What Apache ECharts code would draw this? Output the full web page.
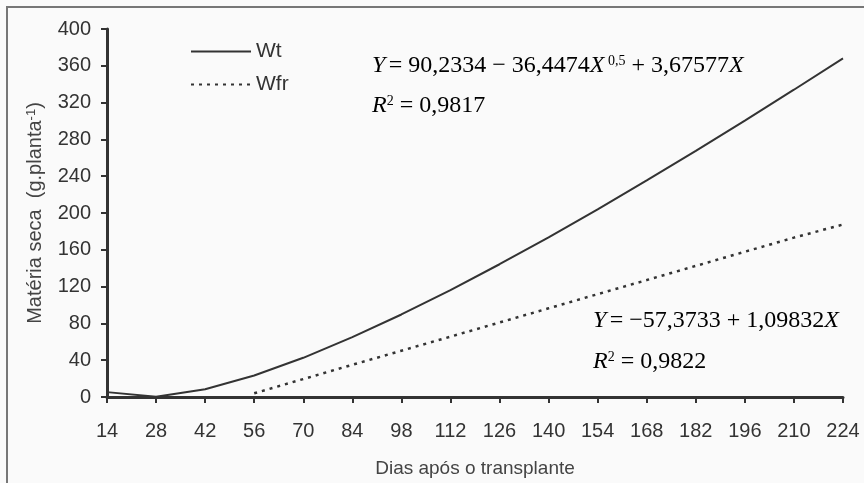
<!DOCTYPE html>
<html>
<head>
<meta charset="utf-8">
<script src="https://cdn.jsdelivr.net/npm/echarts@6/dist/echarts.min.js"></script>
<style>
  html, body { margin: 0; padding: 0; background: #fafafa; }
  #chart { width: 864px; height: 483px; }
</style>
</head>
<body>
<div id="chart"></div>
<script>
// dias após o transplante
const days = [14, 28, 42, 56, 70, 84, 98, 112, 126, 140, 154, 168, 182, 196, 210, 224];
// matéria seca total (Wt)
const wt = [5.3, 0.3, 8.4, 23.3, 42.6, 65, 89.7, 116.2, 144.3, 173.6, 204, 235.4, 267.5, 300.4, 334, 368.1];
// matéria seca de frutos (Wfr), só a partir de 56 dias
const wfr = [null, null, null, 4, 19.5, 35, 50.3, 65.6, 81, 96.4, 111.8, 127.1, 142.5, 157.9, 173.2, 187.5];
const yTicks = { min: 0, max: 400, step: 40 };

const ink = '#333';
const sans = 'Liberation Sans, Arial, sans-serif';
const serif = 'Liberation Serif, Times New Roman, serif';

const chart = echarts.init(document.getElementById('chart'));

const eqRich = {
  n: { fontFamily: serif, fontSize: 24, color: ink },
  i: { fontFamily: serif, fontSize: 24, fontStyle: 'italic', color: ink },
  sup: { fontFamily: serif, fontSize: 14, color: ink, verticalAlign: 'top', padding: [0, 0, 10, 0] }
};

chart.setOption({
  backgroundColor: '#fafafa',
  animation: false,
  grid: { left: 107, right: 21, top: 29, bottom: 84 },
  legend: {
    orient: 'vertical',
    left: 185,
    top: 36,
    itemWidth: 60,
    itemHeight: 22,
    itemGap: 12,
    itemStyle: { opacity: 0 },
    textStyle: { fontFamily: sans, fontSize: 21, color: ink },
    data: ['Wt', 'Wfr']
  },
  xAxis: {
    type: 'value',
    min: 14,
    max: 224,
    interval: 14,
    name: 'Dias após o transplante',
    nameLocation: 'middle',
    nameGap: 62,
    nameTextStyle: { fontFamily: sans, fontSize: 19, color: '#444' },
    axisLine: { lineStyle: { color: ink, width: 3 } },
    axisTick: { length: 6, lineStyle: { color: ink, width: 2 } },
    axisLabel: { fontFamily: sans, fontSize: 20, color: ink, margin: 24 },
    splitLine: { show: false }
  },
  yAxis: {
    type: 'value',
    min: yTicks.min,
    max: yTicks.max,
    interval: yTicks.step,
    name: '{a|Matéria seca  (g.planta}{s|-1}{a|)}',
    nameLocation: 'middle',
    nameGap: 61,
    nameTextStyle: {
      rich: {
        a: { fontFamily: sans, fontSize: 20, color: '#444' },
        s: { fontFamily: sans, fontSize: 13, color: '#444', verticalAlign: 'top', padding: [0, 0, 8, 0] }
      }
    },
    axisLine: { show: true, lineStyle: { color: ink, width: 3 } },
    axisTick: { show: true, length: 6, lineStyle: { color: ink, width: 2 } },
    axisLabel: { fontFamily: sans, fontSize: 20, color: ink, margin: 16 },
    splitLine: { show: false }
  },
  series: [
    {
      name: 'Wt',
      type: 'line',
      symbol: 'none',
      data: days.map((d, i) => [d, wt[i]]),
      lineStyle: { color: ink, width: 2 },
      itemStyle: { color: ink }
    },
    {
      name: 'Wfr',
      type: 'line',
      symbol: 'none',
      connectNulls: false,
      data: days.map((d, i) => [d, wfr[i]]),
      lineStyle: { color: ink, width: 2.5, type: [3, 5] },
      itemStyle: { color: ink }
    }
  ],
  graphic: [
    {
      type: 'polyline',
      silent: true,
      shape: { points: [[7, 483], [7, 7], [864, 7]] },
      style: { stroke: '#777', lineWidth: 2, fill: null }
    },
    {
      type: 'text', left: 372, top: 54,
      style: { text: '{i|Y} {n|= 90,2334 − 36,4474}{i|X}{sup| 0,5}{n| + 3,67577}{i|X}', rich: eqRich }
    },
    {
      type: 'text', left: 372, top: 94,
      style: { text: '{i|R}{sup|2}{n| = 0,9817}', rich: eqRich }
    },
    {
      type: 'text', left: 593, top: 309,
      style: { text: '{i|Y} {n|= −57,3733 + 1,09832}{i|X}', rich: eqRich }
    },
    {
      type: 'text', left: 593, top: 350,
      style: { text: '{i|R}{sup|2}{n| = 0,9822}', rich: eqRich }
    }
  ]
});
</script>
</body>
</html>
